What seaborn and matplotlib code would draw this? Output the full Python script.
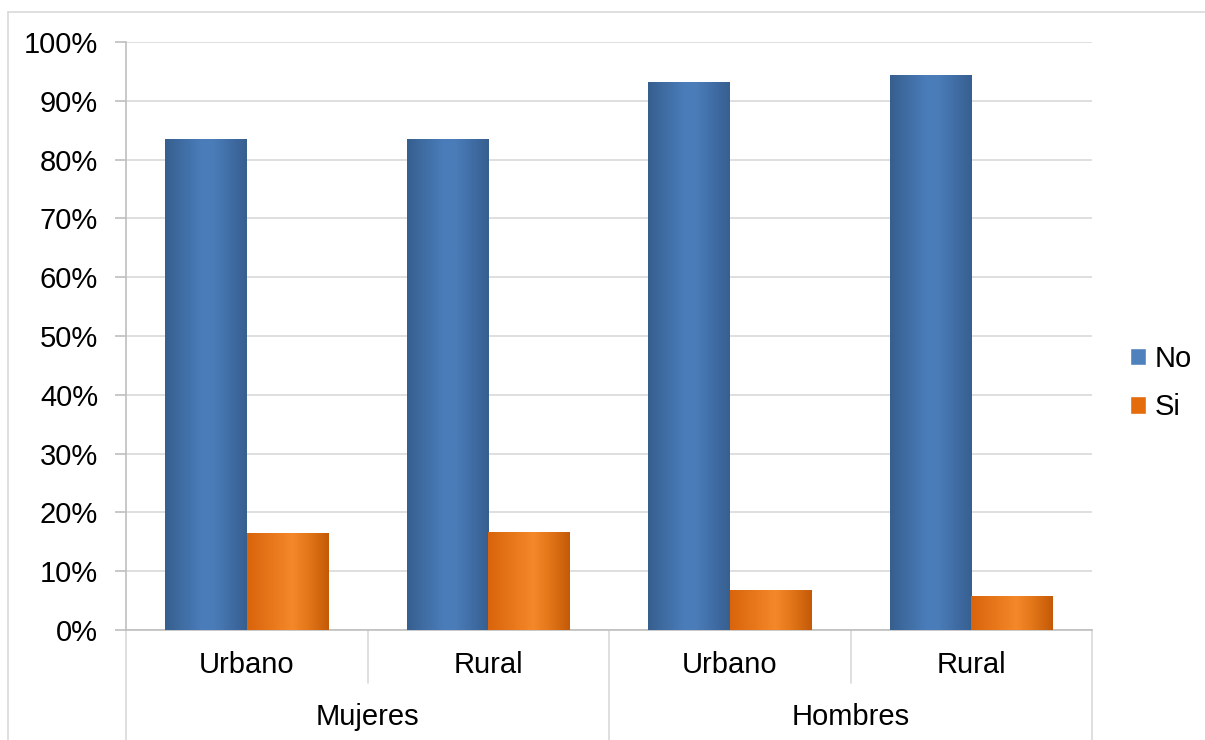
import numpy as np
import pandas as pd
import seaborn as sns
import matplotlib.pyplot as plt
from matplotlib.colors import LinearSegmentedColormap
from matplotlib.patches import Patch
from matplotlib.lines import Line2D
import matplotlib.transforms as mtransforms

# data
groups = ['Mujeres', 'Mujeres', 'Hombres', 'Hombres']
areas = ['Urbano', 'Rural', 'Urbano', 'Rural']
no_vals = [83.5, 83.5, 93.2, 94.4]
si_vals = [16.5, 16.7, 6.8, 5.8]
yticks = [0, 10, 20, 30, 40, 50, 60, 70, 80, 90, 100]

sns.set_style('white')
plt.rcParams['font.family'] = ['Liberation Sans', 'DejaVu Sans']
plt.rcParams['text.color'] = 'black'
plt.rcParams['ytick.labelcolor'] = 'black'

cats = [g + ' ' + a for g, a in zip(groups, areas)]
df = pd.DataFrame({'cat': cats * 2,
                   'val': no_vals + si_vals,
                   'resp': ['No'] * 4 + ['Si'] * 4})

fig = plt.figure(figsize=(12.05, 7.4), dpi=100)
ax = fig.add_axes([126 / 1205, 110 / 740, 966 / 1205, 588 / 740])

sns.barplot(data=df, x='cat', y='val', hue='resp', order=cats,
            palette=['#4f81bd', '#e46c0a'], width=0.675, gap=0,
            saturation=1, legend=False, ax=ax)

blue_cm = LinearSegmentedColormap.from_list(
    'b', [(0, '#365f8e'), (0.2, '#3f6ca2'), (0.45, '#4a7dba'), (0.6, '#4a7cb8'),
          (0.85, '#3e69a0'), (1, '#37608f')])
orange_cm = LinearSegmentedColormap.from_list(
    'o', [(0, '#d9640b'), (0.3, '#e8771b'), (0.55, '#f4882a'), (0.75, '#e27618'),
          (1, '#c45a08')])

grad = np.linspace(0, 1, 256).reshape(1, -1)
for i, bar in enumerate(ax.patches):
    x0, y0 = bar.get_x(), bar.get_y()
    w, h = bar.get_width(), bar.get_height()
    if h <= 0:
        continue
    cm = blue_cm if i < 4 else orange_cm
    im = ax.imshow(grad, cmap=cm, aspect='auto', extent=[x0, x0 + w, y0, y0 + h],
                   zorder=3, interpolation='bicubic')
    im.set_clip_path(bar)
    bar.set_facecolor('none')
    bar.set_edgecolor('none')

ax.set_xlim(-0.5, 3.5)
ax.set_ylim(0, 100)
ax.set_yticks(yticks)
ax.set_yticklabels([f'{v}%' for v in yticks], fontsize=21, color='black')
ax.grid(axis='y', color='#d9d9d9', lw=1.2, zorder=0)
ax.set_axisbelow(True)
ax.set_xlabel('')
ax.set_ylabel('')
ax.set_xticks([])
ax.tick_params(axis='y', length=8, width=1.2, color='#bfbfbf', pad=12, left=True)
for s in ['top', 'right']:
    ax.spines[s].set_visible(False)
for s in ['left', 'bottom']:
    ax.spines[s].set_color('#bfbfbf')
    ax.spines[s].set_linewidth(1.2)

# two level category axis
trans = mtransforms.blended_transform_factory(ax.transData, ax.transAxes)
for i, a in enumerate(areas):
    ax.text(i, -35 / 588, a, transform=trans, ha='center', va='center', fontsize=21)
for i, g in enumerate(['Mujeres', 'Hombres']):
    ax.text(2 * i + 0.5, -87 / 588, g, transform=trans, ha='center', va='center', fontsize=21)
for xb, yb in [(-0.5, -110 / 588), (0.5, -53 / 588), (1.5, -110 / 588),
               (2.5, -53 / 588), (3.5, -110 / 588)]:
    ax.plot([xb, xb], [0, yb], transform=trans, color='#d9d9d9', lw=1.2, clip_on=False)

handles = [Patch(facecolor='#4f81bd', label='No'), Patch(facecolor='#e46c0a', label='Si')]
ax.legend(handles=handles, loc='center left', bbox_to_anchor=(1.012, 0.42),
          frameon=False, fontsize=21, handlelength=0.55, handleheight=0.55,
          handletextpad=0.3, labelspacing=0.7)

# outer chart frame
fig.add_artist(Line2D([8 / 1205, 1], [1 - 12 / 740, 1 - 12 / 740], color='#d9d9d9', lw=1.2))
fig.add_artist(Line2D([8 / 1205, 8 / 1205], [0, 1 - 12 / 740], color='#d9d9d9', lw=1.2))

fig.savefig('out.png', dpi=100)
